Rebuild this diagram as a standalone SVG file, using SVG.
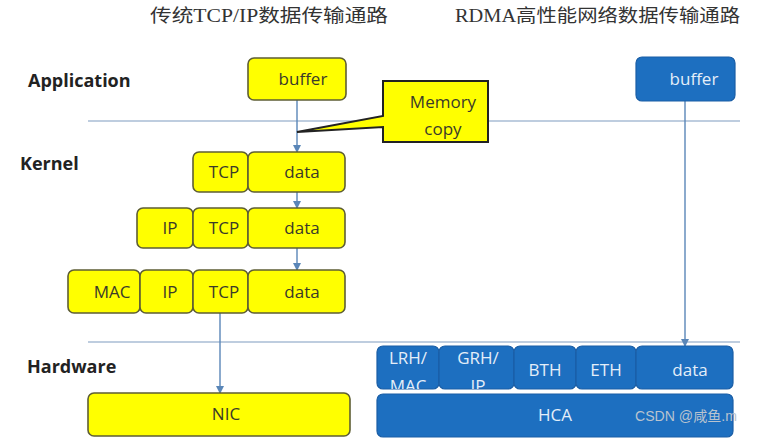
<svg xmlns="http://www.w3.org/2000/svg" width="757" height="445" viewBox="0 0 757 445">
<style>
.title{font-family:"Liberation Serif","Noto Sans CJK SC",serif;font-size:18px;fill:#333}
.lay{font-family:"Open Sans","Liberation Sans",sans-serif;font-size:18px;font-weight:bold;fill:#222}
.y{fill:#ffff00;stroke:#5e5e34;stroke-width:1.6}
.b{fill:#1d6fc0;stroke:#1a5ea6;stroke-width:1.2}
.yt{font-family:"Open Sans","Liberation Sans",sans-serif;font-size:17px;fill:#3a3a2a;text-anchor:middle}
.bt{font-family:"Open Sans","Liberation Sans",sans-serif;font-size:17px;fill:#e4eef9;text-anchor:middle}
.sep{stroke:#a9bdd5;stroke-width:1.3;fill:none}
.con{stroke:#5a86b8;stroke-width:1.4;fill:none}
</style>
<defs>
<marker id="ah" markerWidth="8" markerHeight="8" refX="7" refY="4" orient="auto" markerUnits="userSpaceOnUse">
<path d="M0,0 L8,4 L0,8 Z" fill="#5a86b8"/>
</marker>
<clipPath id="c1"><rect x="377" y="346" width="62" height="43" rx="6"/></clipPath>
<clipPath id="c2"><rect x="439" y="346" width="75" height="43" rx="6"/></clipPath>
</defs>
<rect width="757" height="445" fill="#fff"/>
<text class="title" x="150" y="22" textLength="238" lengthAdjust="spacingAndGlyphs">传统TCP/IP数据传输通路</text>
<text class="title" x="455" y="22" textLength="285" lengthAdjust="spacingAndGlyphs">RDMA高性能网络数据传输通路</text>
<g id="layers">
<line class="sep" x1="88" y1="121" x2="740" y2="121"/>
<line class="sep" x1="88" y1="342" x2="740" y2="342"/>
<text class="lay" x="28" y="87">Application</text>
<text class="lay" x="20" y="170">Kernel</text>
<text class="lay" x="27" y="373">Hardware</text>
</g>
<g id="connectors">
<line class="con" x1="297" y1="100" x2="297" y2="152" marker-end="url(#ah)"/>
<line class="con" x1="297" y1="192" x2="297" y2="208" marker-end="url(#ah)"/>
<line class="con" x1="297" y1="248" x2="297" y2="270" marker-end="url(#ah)"/>
<line class="con" x1="220" y1="313" x2="220" y2="393" marker-end="url(#ah)"/>
<line class="con" x1="685" y1="101" x2="685" y2="346" marker-end="url(#ah)"/>
</g>
<g id="tcp-buffer"><rect class="y" x="248" y="58" width="98" height="42" rx="6"/><text class="yt" x="303" y="85">buffer</text></g>
<g id="memory-copy">
<path d="M383,81 L488,81 L488,142 L383,142 L383,127 L297,132 L383,116 Z" fill="#ffff00" stroke="#222" stroke-width="2"/>
<text class="yt" x="443" y="108">Memory</text>
<text class="yt" x="443" y="135">copy</text>
</g>
<g id="row1">
<rect class="y" x="193" y="152" width="55" height="40" rx="6"/><text class="yt" x="224" y="178">TCP</text>
<rect class="y" x="248" y="152" width="97" height="40" rx="6"/><text class="yt" x="302" y="178">data</text>
</g>
<g id="row2">
<rect class="y" x="137" y="208" width="56" height="40" rx="6"/><text class="yt" x="170" y="234">IP</text>
<rect class="y" x="193" y="208" width="55" height="40" rx="6"/><text class="yt" x="224" y="234">TCP</text>
<rect class="y" x="248" y="208" width="97" height="40" rx="6"/><text class="yt" x="302" y="234">data</text>
</g>
<g id="row3">
<rect class="y" x="68" y="270" width="72" height="43" rx="6"/><text class="yt" x="112" y="298">MAC</text>
<rect class="y" x="140" y="270" width="53" height="43" rx="6"/><text class="yt" x="170" y="298">IP</text>
<rect class="y" x="193" y="270" width="55" height="43" rx="6"/><text class="yt" x="224" y="298">TCP</text>
<rect class="y" x="248" y="270" width="97" height="43" rx="6"/><text class="yt" x="302" y="298">data</text>
</g>
<g id="nic"><rect class="y" x="88" y="393" width="262" height="43" rx="6"/><text class="yt" x="226" y="420">NIC</text></g>
<g id="rdma-buffer"><rect class="b" x="636" y="57" width="99" height="44" rx="6"/><text class="bt" x="694" y="85">buffer</text></g>
<g id="lrh"><rect class="b" x="377" y="346" width="62" height="43" rx="6"/><text class="bt" x="408" y="364" clip-path="url(#c1)">LRH/<tspan x="408" dy="28">MAC</tspan></text></g>
<g id="grh"><rect class="b" x="439" y="346" width="75" height="43" rx="6"/><text class="bt" x="478" y="364" clip-path="url(#c2)">GRH/<tspan x="478" dy="28">IP</tspan></text></g>
<g id="bth"><rect class="b" x="514" y="346" width="62" height="43" rx="6"/><text class="bt" x="545" y="376">BTH</text></g>
<g id="eth"><rect class="b" x="576" y="346" width="60" height="43" rx="6"/><text class="bt" x="606" y="376">ETH</text></g>
<g id="rdata"><rect class="b" x="636" y="346" width="97" height="43" rx="6"/><text class="bt" x="690" y="376">data</text></g>
<g id="hca"><rect class="b" x="377" y="394" width="356" height="43" rx="6"/><text class="bt" x="555" y="421">HCA</text></g>
<text x="635" y="421" font-family="Liberation Sans,'Noto Sans CJK SC',sans-serif" font-size="14" fill="#b9c3cf" textLength="102" lengthAdjust="spacingAndGlyphs">CSDN @咸鱼.m</text>
</svg>
